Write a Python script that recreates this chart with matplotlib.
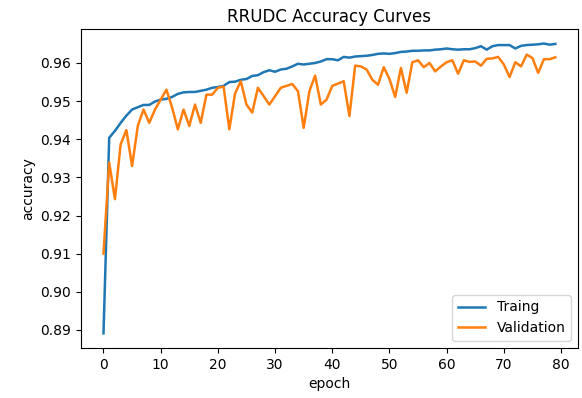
import numpy as np
import matplotlib
matplotlib.use("Agg")
import matplotlib.pyplot as plt

# accuracy per epoch
train_acc = [
    0.8891, 0.9404, 0.9422, 0.9443, 0.9462, 0.9478, 0.9484, 0.9490, 0.9490, 0.9499,
    0.9504, 0.9506, 0.9511, 0.9519, 0.9523, 0.9524, 0.9524, 0.9527, 0.9530, 0.9535,
    0.9537, 0.9540, 0.9550, 0.9551, 0.9556, 0.9558, 0.9566, 0.9568, 0.9576, 0.9581,
    0.9577, 0.9583, 0.9585, 0.9591, 0.9598, 0.9596, 0.9598, 0.9600, 0.9604, 0.9610,
    0.9610, 0.9607, 0.9616, 0.9614, 0.9617, 0.9618, 0.9619, 0.9621, 0.9624, 0.9625,
    0.9624, 0.9626, 0.9629, 0.9630, 0.9632, 0.9632, 0.9633, 0.9633, 0.9635, 0.9636,
    0.9638, 0.9636, 0.9635, 0.9636, 0.9636, 0.9639, 0.9644, 0.9635, 0.9644, 0.9647,
    0.9647, 0.9647, 0.9638, 0.9645, 0.9647, 0.9648, 0.9649, 0.9651, 0.9648, 0.9650,
]
val_acc = [
    0.9100, 0.9339, 0.9243, 0.9387, 0.9424, 0.9330, 0.9435, 0.9478, 0.9443, 0.9478,
    0.9504, 0.9530, 0.9483, 0.9426, 0.9478, 0.9435, 0.9491, 0.9443, 0.9517, 0.9517,
    0.9535, 0.9538, 0.9426, 0.9520, 0.9552, 0.9491, 0.9470, 0.9535, 0.9513, 0.9491,
    0.9513, 0.9535, 0.9540, 0.9545, 0.9526, 0.9430, 0.9526, 0.9567, 0.9491, 0.9504,
    0.9540, 0.9546, 0.9552, 0.9461, 0.9593, 0.9591, 0.9583, 0.9556, 0.9543, 0.9589,
    0.9558, 0.9511, 0.9587, 0.9522, 0.9602, 0.9607, 0.9589, 0.9600, 0.9578, 0.9591,
    0.9602, 0.9607, 0.9572, 0.9607, 0.9603, 0.9604, 0.9593, 0.9611, 0.9612, 0.9616,
    0.9596, 0.9563, 0.9602, 0.9591, 0.9622, 0.9613, 0.9574, 0.9610, 0.9610, 0.9615,
]
epochs = np.arange(len(train_acc))

fig = plt.figure(figsize=(5.82, 3.98), dpi=100)
ax = fig.add_axes([0.139, 0.126, 0.854, 0.801])

ax.plot(epochs, train_acc, label="Traing", linewidth=1.8)
ax.plot(epochs, val_acc, label="Validation", linewidth=1.8)

ax.set_title("RRUDC Accuracy Curves", pad=5)
ax.set_xlabel("epoch")
ax.set_ylabel("accuracy")
ax.legend(loc="lower right")

fig.savefig("out.png", dpi=100)
